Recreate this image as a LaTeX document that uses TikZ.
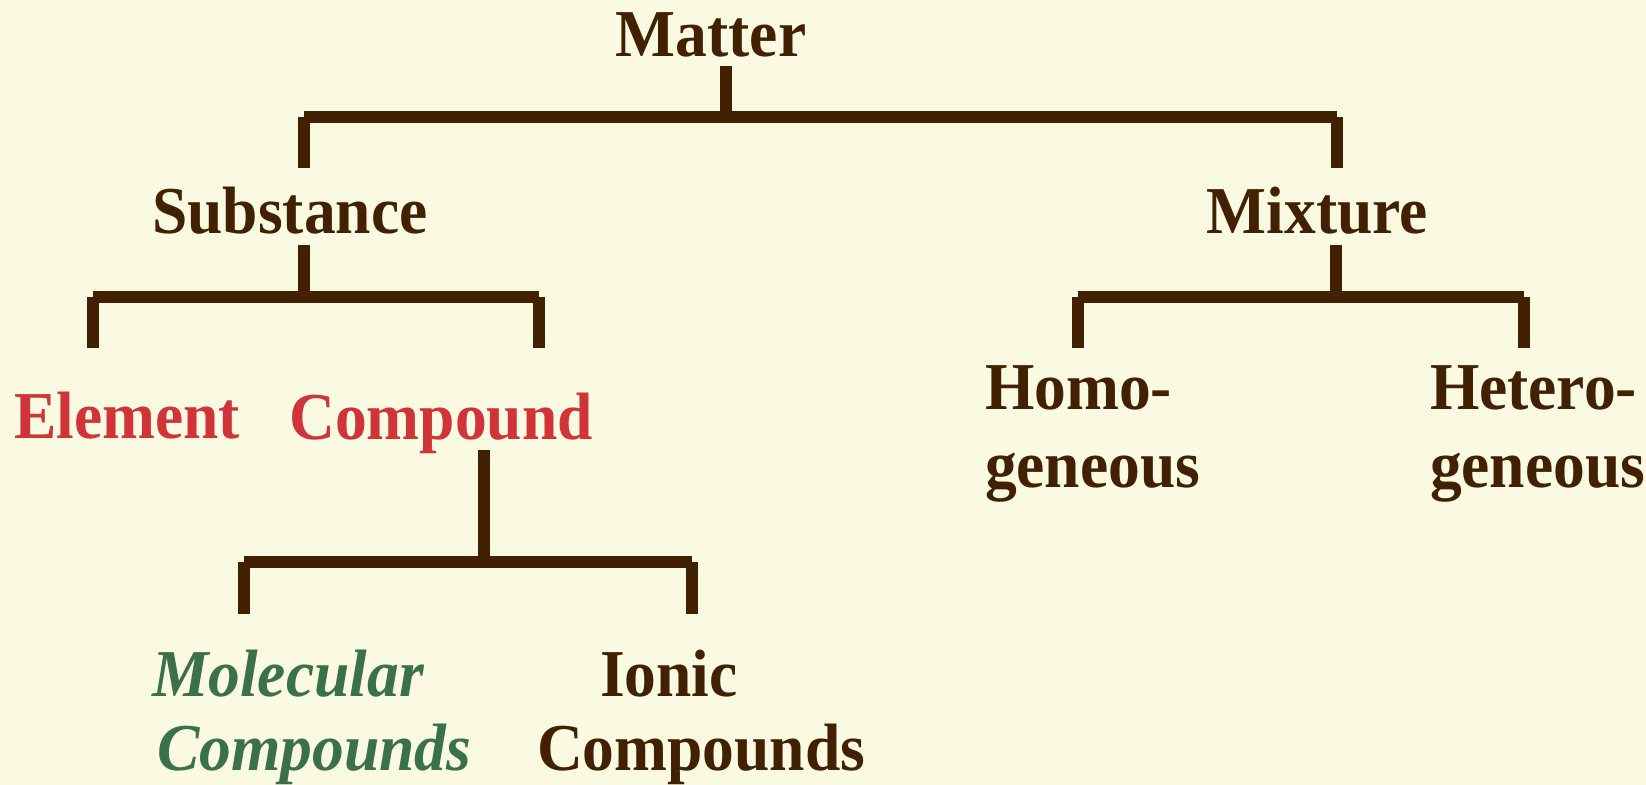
\documentclass[tikz,border=0pt]{standalone}
\usepackage{fontspec}
\setmainfont{Liberation Serif}[FakeStretch=0.948]
\definecolor{bgc}{RGB}{250,250,226}
\definecolor{ink}{RGB}{66,32,2}
\definecolor{redc}{RGB}{208,52,56}
\definecolor{greenc}{RGB}{58,112,74}
\tikzset{
  lbl/.style={inner sep=0pt, outer sep=0pt, font=\fontsize{33.5}{39}\selectfont\bfseries},
  conn/.style={draw=ink, line width=6pt, line cap=butt},
}
\begin{document}
\begin{tikzpicture}[x=0.5pt, y=-0.5pt]
\fill[bgc] (0,0) rectangle (1646,785);
\useasboundingbox (0,0) rectangle (1646,785);

% labels
\node[lbl, text=ink, anchor=base] (matter) at (711,57) {Matter};
\node[lbl, text=ink, anchor=base] (subst) at (290,234) {Substance};
\node[lbl, text=ink, anchor=base] (mix) at (1317.5,233.5) {Mixture};
\node[lbl, text=redc, anchor=base] (elem) at (127,439) {Element};
\node[lbl, text=redc, anchor=base] (comp) at (441,440) {Compound};
\node[lbl, text=ink, anchor=base west] (homo) at (985,410)
  {\vtop{\baselineskip=39pt\hbox{Homo-}\hbox{geneous}}};
\node[lbl, text=ink, anchor=base west] (hetero) at (1430,410)
  {\vtop{\baselineskip=39pt\hbox{Hetero-}\hbox{geneous}}};
\node[lbl, text=greenc, anchor=base west, font=\fontsize{33.5}{39}\selectfont\bfseries\itshape] (molec) at (152,697)
  {\vtop{\baselineskip=36.75pt\hbox{Molecular}\hbox{\hspace*{2.5pt}Compounds}}};
\node[lbl, text=ink, anchor=base west] (ionic) at (537,697)
  {\vtop{\baselineskip=37pt\hbox{\hspace*{31.5pt}Ionic}\hbox{Compounds}}};

% junction coordinates
\coordinate (matter-s) at (726,66);
\coordinate (j1) at (726,117);
\coordinate (j1l) at (303.5,117);
\coordinate (j1r) at (1336.5,117);
\coordinate (subst-n) at (303.5,168);
\coordinate (mix-n) at (1336.5,168);

\coordinate (subst-s) at (303.7,245);
\coordinate (j2) at (303.7,297);
\coordinate (j2l) at (93,297);
\coordinate (j2r) at (538.7,297);
\coordinate (elem-n) at (93,348);
\coordinate (comp-n) at (538.7,348);

\coordinate (mix-s) at (1336.3,245);
\coordinate (j3) at (1336.3,297);
\coordinate (j3l) at (1078,297);
\coordinate (j3r) at (1524,297);
\coordinate (homo-n) at (1078,348);
\coordinate (hetero-n) at (1524,348);

\coordinate (comp-s) at (484.2,450);
\coordinate (j4) at (484.2,562);
\coordinate (j4l) at (244.2,562);
\coordinate (j4r) at (691.8,562);
\coordinate (molec-n) at (244.2,614);
\coordinate (ionic-n) at (691.8,614);

% Matter bracket
\draw[conn] (matter-s) -- (j1);
\draw[conn] (j1l) -- (j1r);
\draw[conn] (j1l) -- (subst-n);
\draw[conn] (j1r) -- (mix-n);
% Substance bracket
\draw[conn] (subst-s) -- (j2);
\draw[conn] (j2l) -- (j2r);
\draw[conn] (j2l) -- (elem-n);
\draw[conn] (j2r) -- (comp-n);
% Mixture bracket
\draw[conn] (mix-s) -- (j3);
\draw[conn] (j3l) -- (j3r);
\draw[conn] (j3l) -- (homo-n);
\draw[conn] (j3r) -- (hetero-n);
% Compound bracket
\draw[conn] (comp-s) -- (j4);
\draw[conn] (j4l) -- (j4r);
\draw[conn] (j4l) -- (molec-n);
\draw[conn] (j4r) -- (ionic-n);
\end{tikzpicture}
\end{document}
